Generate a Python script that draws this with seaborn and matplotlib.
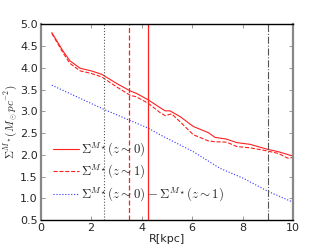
import matplotlib
matplotlib.use("Agg")
import matplotlib.pyplot as plt
import seaborn as sns
import pandas as pd

# data
r_z0 = [0.44, 0.90, 1.16, 1.56, 2.00, 2.42, 3.01, 3.54, 3.80, 4.27, 4.66, 4.93, 5.12, 5.52, 6.05, 6.64, 6.91, 7.37, 7.77, 8.30, 8.96, 9.42, 10.0]
s_z0 = [4.81, 4.37, 4.16, 3.99, 3.93, 3.85, 3.64, 3.47, 3.41, 3.26, 3.11, 3.01, 3.01, 2.88, 2.65, 2.51, 2.40, 2.36, 2.28, 2.24, 2.13, 2.07, 1.97]
r_z1 = [0.44, 0.90, 1.16, 1.56, 2.00, 2.42, 3.01, 3.54, 3.80, 4.27, 4.73, 4.93, 5.19, 5.52, 6.05, 6.64, 6.91, 7.37, 7.77, 8.30, 8.96, 9.42, 9.80, 10.0]
s_z1 = [4.79, 4.33, 4.10, 3.93, 3.87, 3.79, 3.56, 3.37, 3.33, 3.18, 2.97, 2.90, 2.94, 2.76, 2.46, 2.32, 2.30, 2.29, 2.19, 2.16, 2.09, 2.03, 1.92, 1.94]
r_diff = [0.44, 2.48, 4.27, 4.73, 6.05, 7.10, 8.03, 9.04, 10.0]
s_diff = [3.60, 3.05, 2.61, 2.46, 2.07, 1.69, 1.46, 1.15, 0.91]
vlines = [2.5, 3.5, 4.25, 9.0]
labels = [r"$\Sigma^{M_\star}(z\sim0)$", r"$\Sigma^{M_\star}(z\sim1)$",
          r"$\Sigma^{M_\star}(z\sim0)-\Sigma^{M_\star}(z\sim1)$"]
xticks = [0, 2, 4, 6, 8, 10]
yticks = [0.5, 1.0, 1.5, 2.0, 2.5, 3.0, 3.5, 4.0, 4.5, 5.0]

sns.set_style("ticks")
plt.rcParams["font.family"] = ["DejaVu Sans"]
plt.rcParams["mathtext.fontset"] = "cm"

fig = plt.figure(figsize=(3.27, 2.45), dpi=100)
ax = fig.add_axes([0.1245, 0.102, 0.7715, 0.7988])

red = "#ff2020"
df0 = pd.DataFrame({"R": r_z0, "S": s_z0})
df1 = pd.DataFrame({"R": r_z1, "S": s_z1})
df2 = pd.DataFrame({"R": r_diff, "S": s_diff})
sns.lineplot(data=df0, x="R", y="S", ax=ax, color=red, lw=0.8, label=labels[0])
sns.lineplot(data=df1, x="R", y="S", ax=ax, color=red, lw=0.8, ls="--", label=labels[1])
sns.lineplot(data=df2, x="R", y="S", ax=ax, color="#3030ff", lw=0.8, ls=":", label=labels[2])

ax.axvline(vlines[0], color="#555555", lw=0.8, ls=":")
ax.axvline(vlines[1], color=red, lw=0.9, ls=(0, (4, 2)))
ax.axvline(vlines[2], color=red, lw=0.9, ls="-")
ax.axvline(vlines[3], color="#555555", lw=0.8, ls="-.")

ax.set_xlim(0, 10)
ax.set_ylim(0.5, 5.0)
ax.set_xticks(xticks)
ax.set_yticks(yticks)
ax.set_xticklabels([str(t) for t in xticks])
ax.set_yticklabels([f"{t:.1f}" for t in yticks])
ax.tick_params(direction="in", top=True, right=True, length=3, width=0.6,
               labelsize=8, color="#888888", pad=2)
for s in ["top", "bottom"]:
    ax.spines[s].set_color("black")
    ax.spines[s].set_linewidth(1.0)
for s in ["left", "right"]:
    ax.spines[s].set_color("#888888")
    ax.spines[s].set_linewidth(1.6)

ax.set_xlabel("R[kpc]", fontsize=8, labelpad=1)
ax.set_ylabel(r"$\Sigma^{M_\star}(M_\odot pc^{-2})$", fontsize=8, labelpad=1)

ax.legend(loc="center left", bbox_to_anchor=(0.028, 0.244), frameon=False,
          fontsize=9.3, handlelength=2.0, labelspacing=0.35, handletextpad=0.15,
          borderaxespad=0)

fig.savefig("out.png", dpi=100)
